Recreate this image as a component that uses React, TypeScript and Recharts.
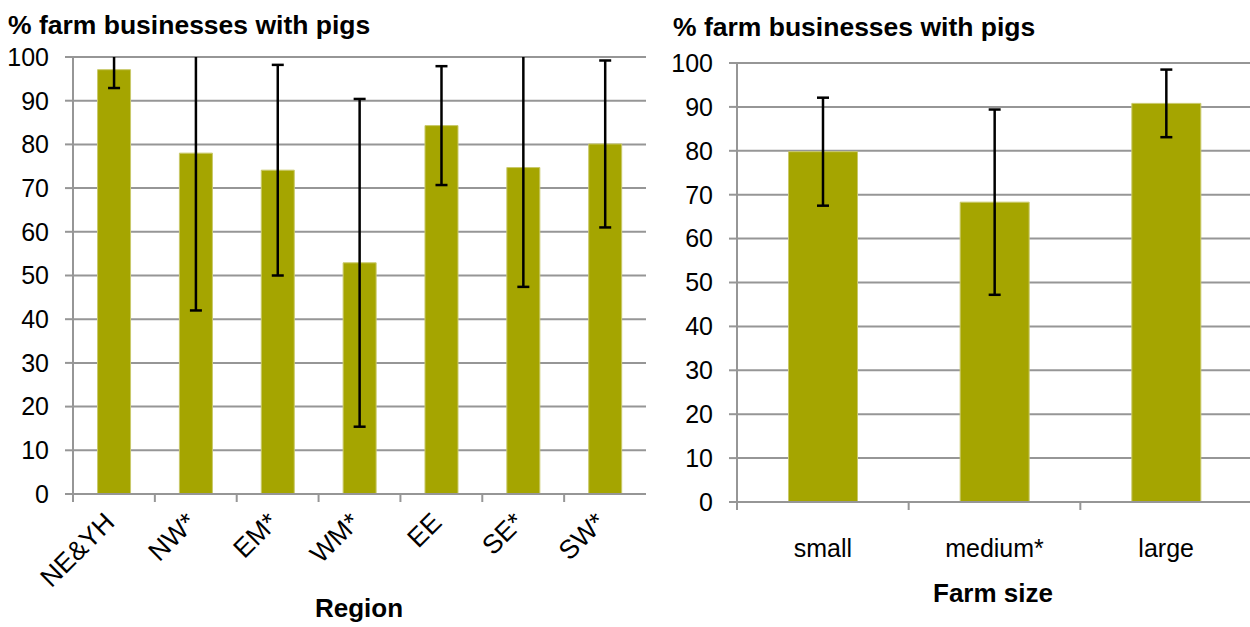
import React from 'react';
import { BarChart, Bar, XAxis, YAxis, CartesianGrid, ErrorBar } from 'recharts';

// ─── Data ────────────────────────────────────────────────────────────────────

const regions = ['NE&YH', 'NW*', 'EM*', 'WM*', 'EE', 'SE*', 'SW*'];
const regionPct = [97.1, 78.0, 74.1, 52.9, 84.3, 74.7, 80.1];
const regionErr = [4.2, 36.0, 24.1, 37.5, 13.6, 27.3, 19.1];

const sizes = ['small', 'medium*', 'large'];
const sizePct = [79.8, 68.3, 90.8];
const sizeErr = [12.3, 21.1, 7.7];

const yTicks = [0, 10, 20, 30, 40, 50, 60, 70, 80, 90, 100];

const regionData = regions.map((name, i) => ({ name, pct: regionPct[i], err: regionErr[i] }));
const sizeData = sizes.map((name, i) => ({ name, pct: sizePct[i], err: sizeErr[i] }));

// ─── Styles ──────────────────────────────────────────────────────────────────

const FONT = '"Liberation Sans", Arial, sans-serif';
const BAR = '#A5A500';
const GRID = '#969696';
const TEXT = '#000';
const FS = 25;

// error bars that run past 100 are cut at the top of the plot, as in Excel
const clipCss = `
.chart-left [class*="errorBar"] { clip-path: url(#clip-left); }
.chart-right [class*="errorBar"] { clip-path: url(#clip-right); }
`;

// Excel-style category tick: line at the left band edge, label centred
function RotatedTick(props: any) {
  const { x, y, payload, width, visibleTicksCount } = props;
  const band = width / visibleTicksCount;
  const edge = x - band / 2;
  const ax = x + 2;
  const ay = y + 30;
  return (
    <g>
      <line x1={edge} y1={y} x2={edge} y2={y + 8} stroke={GRID} strokeWidth={2} />
      <text
        x={ax}
        y={ay}
        textAnchor="end"
        transform={`rotate(-45, ${ax}, ${ay})`}
        fontSize={26.5}
        fontFamily={FONT}
        fill={TEXT}
      >
        {payload.value}
      </text>
    </g>
  );
}

function FlatTick(props: any) {
  const { x, y, payload, width, visibleTicksCount } = props;
  const band = width / visibleTicksCount;
  const edge = x - band / 2;
  return (
    <g>
      <line x1={edge} y1={y} x2={edge} y2={y + 8} stroke={GRID} strokeWidth={2} />
      <text x={x} y={y + 55} textAnchor="middle" fontSize={FS} fontFamily={FONT} fill={TEXT}>
        {payload.value}
      </text>
    </g>
  );
}

const titleStyle: React.CSSProperties = {
  position: 'absolute',
  fontFamily: FONT,
  fontWeight: 'bold',
  fontSize: 26.5,
  color: TEXT,
  whiteSpace: 'nowrap',
  lineHeight: '30px',
};

const axisTitleStyle: React.CSSProperties = {
  position: 'absolute',
  width: 200,
  textAlign: 'center',
  fontFamily: FONT,
  fontWeight: 'bold',
  fontSize: 26,
  lineHeight: '30px',
  color: TEXT,
};

export default function App() {
  return (
    <div style={{ position: 'absolute', left: 0, top: 0, width: 1250, height: 627, background: '#fff', overflow: 'hidden' }}>
      <style>{clipCss}</style>
      <svg width={0} height={0} style={{ position: 'absolute' }}>
        <defs>
          <clipPath id="clip-left">
            <rect x={0} y={57} width={660} height={570} />
          </clipPath>
          <clipPath id="clip-right">
            <rect x={0} y={63} width={600} height={564} />
          </clipPath>
        </defs>
      </svg>

      {/* ─── Left: by region ─── */}
      <div style={{ ...titleStyle, left: 8, top: 10 }}>% farm businesses with pigs</div>
      <div className="chart-left" style={{ position: 'absolute', left: 0, top: 0 }}>
        <BarChart
          width={660}
          height={627}
          data={regionData}
          margin={{ top: 57, right: 14, bottom: 33, left: 13 }}
          barCategoryGap="30%"
        >
          <CartesianGrid vertical={false} stroke={GRID} strokeWidth={2} />
          <XAxis
            dataKey="name"
            axisLine={{ stroke: GRID, strokeWidth: 2 }}
            tickLine={false}
            tickSize={0}
            tickMargin={0}
            height={100}
            interval={0}
            tick={<RotatedTick />}
          />
          <YAxis
            domain={[0, 100]}
            ticks={yTicks}
            allowDataOverflow
            width={60}
            axisLine={{ stroke: GRID, strokeWidth: 2 }}
            tickLine={{ stroke: GRID, strokeWidth: 2 }}
            tickSize={8}
            tickMargin={16}
            tick={{ fontSize: FS, fontFamily: FONT, fill: TEXT }}
          />
          <Bar dataKey="pct" fill={BAR} stroke="#C9C96A" strokeWidth={1} isAnimationActive={false}>
            <ErrorBar dataKey="err" width={6} stroke="#000" strokeWidth={2.5} direction="y" />
          </Bar>
        </BarChart>
      </div>
      <div style={{ ...axisTitleStyle, left: 259, top: 593 }}>Region</div>

      {/* ─── Right: by farm size ─── */}
      <div style={{ ...titleStyle, left: 673, top: 12 }}>% farm businesses with pigs</div>
      <div className="chart-right" style={{ position: 'absolute', left: 660, top: 0 }}>
        <BarChart
          width={592}
          height={627}
          data={sizeData}
          margin={{ top: 63, right: 0, bottom: 35, left: 12 }}
          barCategoryGap="30%"
        >
          <CartesianGrid vertical={false} stroke={GRID} strokeWidth={2} />
          <XAxis
            dataKey="name"
            axisLine={{ stroke: GRID, strokeWidth: 2 }}
            tickLine={false}
            tickSize={0}
            tickMargin={0}
            height={90}
            interval={0}
            tick={<FlatTick />}
          />
          <YAxis
            domain={[0, 100]}
            ticks={yTicks}
            allowDataOverflow
            width={65}
            axisLine={{ stroke: GRID, strokeWidth: 2 }}
            tickLine={{ stroke: GRID, strokeWidth: 2 }}
            tickSize={8}
            tickMargin={16}
            tick={{ fontSize: FS, fontFamily: FONT, fill: TEXT }}
          />
          <Bar dataKey="pct" fill={BAR} stroke="#C9C96A" strokeWidth={1} isAnimationActive={false}>
            <ErrorBar dataKey="err" width={6} stroke="#000" strokeWidth={2.5} direction="y" />
          </Bar>
        </BarChart>
      </div>
      <div style={{ ...axisTitleStyle, left: 893, top: 578 }}>Farm size</div>
    </div>
  );
}
